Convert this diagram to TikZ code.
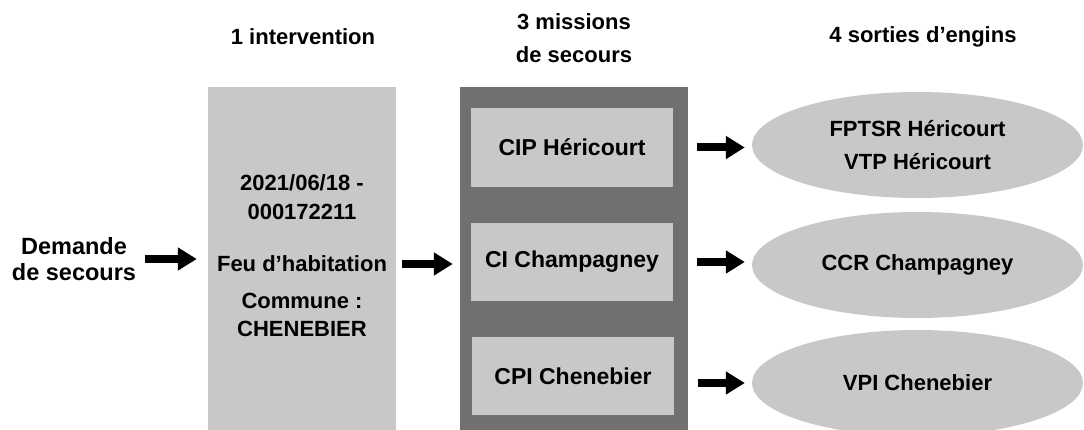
\documentclass[tikz,border=0pt]{standalone}
\usepackage{fontspec}
\setmainfont{Liberation Sans}
\usepackage{tikz}
\usetikzlibrary{shapes.geometric,arrows.meta,calc,positioning}
\definecolor{lightgrey}{RGB}{200,200,200}
\definecolor{darkgrey}{RGB}{112,112,112}

\begin{document}
\begin{tikzpicture}[x = 1pt, y = -1pt]
	\tikzstyle{every node} = [inner sep = 0pt, align = center, font = \fontsize{22}{27}\selectfont\bfseries]
	\tikzstyle{box} = [rectangle, fill = lightgrey]
	\tikzstyle{veh} = [ellipse, fill = lightgrey, minimum width = 331pt, minimum height = 106pt]
	\tikzstyle{arr} = [line width = 8pt, -{Triangle[length = 19pt, width = 22pt]}]
\useasboundingbox (0,0) rectangle (1084,430);
\node[box, minimum width = 188pt, minimum height = 350pt] (1) at (302, 262) {};
\node[box, fill = darkgrey, minimum width = 228pt, minimum height = 350pt] (2) at (574, 262) {};
\node[box, minimum width = 202pt, minimum height = 79pt, font = \fontsize{23}{27}\selectfont\bfseries] (3) at (572, 147.5) {CIP Héricourt};
\node[box, minimum width = 202pt, minimum height = 78pt, font = \fontsize{23}{27}\selectfont\bfseries] (4) at (572, 262) {CI Champagney};
\node[box, minimum width = 202pt, minimum height = 78pt, font = \fontsize{23}{27}\selectfont\bfseries] (5) at (573, 376) {CPI Chenebier};
\node[veh] (6) at (917.5, 145) {FPTSR Héricourt\\[6pt]VTP Héricourt};
\node[veh] (7) at (917.5, 265) {CCR Champagney};
\node[veh] (8) at (917.5, 383) {VPI Chenebier};
\node[font = \fontsize{23.5}{26}\selectfont\bfseries] (0) at (74, 259) {Demande\\de secours};
\node (9) at (303, 37) {1 intervention};
\node[font = \fontsize{22}{33}\selectfont\bfseries] (10) at (574, 38) {3 missions\\de secours};
\node (11) at (923, 37) {4 sorties d’engins};
\node (12) at (302, 197) {2021/06/18 -\\[2pt]000172211};
\node (13) at (302, 264) {Feu d’habitation};
\node (14) at (302, 315) {Commune :\\[1pt]CHENEBIER};
	\path[draw, arr, shorten <= 9pt, shorten >= 11pt] (0.east) -- (0.east -| 1.west);
	\path[draw, arr, shorten <= 6pt, shorten >= 7pt] (13.east -| 1.east) -- (13.east -| 2.west);
	\path[draw, arr, shorten <= 24pt, shorten >= 7pt] (3.east) -- (3.east -| 6.west);
	\path[draw, arr, shorten <= 24pt, shorten >= 7pt] (4.east) -- (4.east -| 7.west);
	\path[draw, arr, shorten <= 24pt, shorten >= 7pt] (8.west -| 5.east) -- (8.west);
\end{tikzpicture}
\end{document}
